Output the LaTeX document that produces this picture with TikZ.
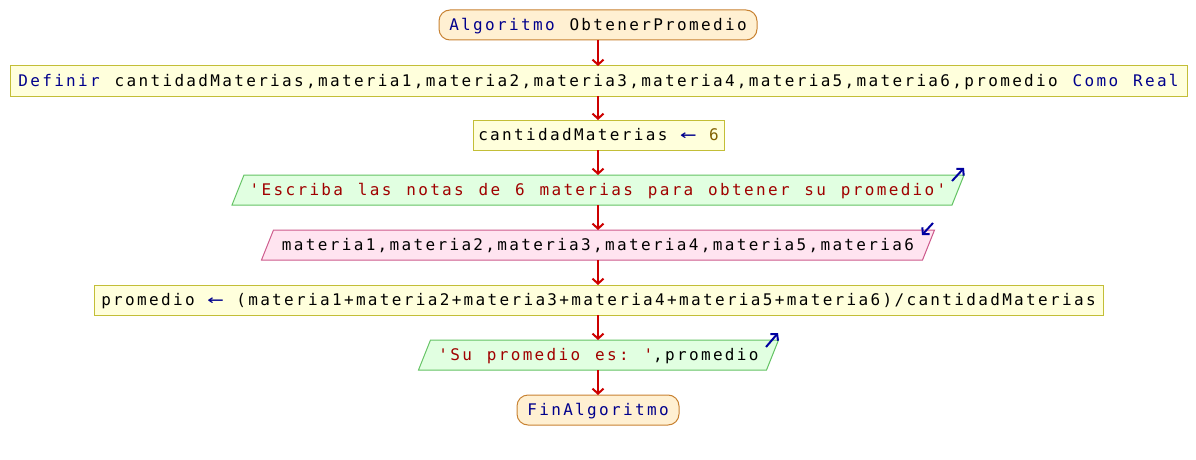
\documentclass[tikz,border=0pt]{standalone}
\usepackage{fontspec}
\setmonofont{DejaVu Sans Mono}[LetterSpace=14.6, WordSpace=1.24]
\usetikzlibrary{arrows.meta,backgrounds,calc}

\definecolor{kwcol}{RGB}{0,0,140}
\definecolor{strcol}{RGB}{160,0,0}
\definecolor{numcol}{RGB}{128,96,0}
\definecolor{termfill}{RGB}{255,240,210}
\definecolor{termline}{RGB}{200,130,50}
\definecolor{procfill}{RGB}{255,255,220}
\definecolor{procline}{RGB}{195,190,55}
\definecolor{outfill}{RGB}{225,255,225}
\definecolor{outline}{RGB}{100,195,100}
\definecolor{infill}{RGB}{255,228,240}
\definecolor{inline}{RGB}{205,90,140}
\definecolor{flowcol}{RGB}{205,0,0}
\definecolor{iocol}{RGB}{0,0,160}

\newcommand{\kw}[1]{\textcolor{kwcol}{#1}}
\newcommand{\str}[1]{\textcolor{strcol}{#1}}
\newcommand{\num}[1]{\textcolor{numcol}{#1}}
% wide assignment arrow
\newcommand{\asg}{\kern-2.2pt\textcolor{kwcol}{\scalebox{1.7}[1.1]{←}}\kern-2.2pt}

% slanted input/output box drawn behind a rectangular text node
\newcommand{\slantbox}[3]{%
  \begin{pgfonlayer}{background}
    \draw[line width=1pt, draw=#3, fill=#2]
      ($(#1.south west)+(-6,0)$) -- ($(#1.north west)+(6,0)$) --
      ($(#1.north east)+(6,0)$) -- ($(#1.south east)+(-6,0)$) -- cycle;
  \end{pgfonlayer}}

\tikzset{
  base/.style={inner sep=0pt, outer sep=0pt, minimum height=30pt,
    font=\fontsize{16}{19}\ttfamily, text height=12.5pt, text depth=0.8pt},
  termbox/.style={base, draw=termline, fill=termfill, line width=1pt, rounded corners=11pt},
  procbox/.style={base, draw=procline, fill=procfill, line width=1pt},
  iobox/.style={base},
  flow/.style={draw=flowcol, line width=2pt, -{Straight Barb[length=5pt,width=11pt]}},
  ioarrow/.style={draw=iocol, line width=2pt, -{Straight Barb[length=4.5pt,width=10pt]}}
}

\begin{document}
\begin{tikzpicture}[x=1pt,y=-1pt]
\useasboundingbox (0,0) rectangle (1196,460);

\node[termbox, minimum width=318pt] (start) at (598,25)
  {\kw{Algoritmo} ObtenerPromedio};
\node[procbox, minimum width=1177pt] (defs) at (598.5,81)
  {\kw{Definir} cantidadMaterias,materia1,materia2,materia3,materia4,materia5,materia6,promedio \kw{Como} \kw{Real}};
\node[procbox, minimum width=251pt] (count) at (598.5,135)
  {cantidadMaterias \asg{} \num{6}};
\node[iobox, minimum width=720pt] (prompt) at (598,190)
  {\str{'Escriba las notas de 6 materias para obtener su promedio'}};
\node[iobox, minimum width=661pt] (read) at (598,245)
  {materia1,materia2,materia3,materia4,materia5,materia6};
\node[procbox, minimum width=1009pt] (avg) at (598.5,300)
  {promedio \asg{} (materia1+materia2+materia3+materia4+materia5+materia6)/cantidadMaterias};
\node[iobox, minimum width=348pt] (show) at (598.5,355)
  {\str{'Su promedio es: '},promedio};
\node[termbox, minimum width=162pt] (stop) at (598,410)
  {\kw{FinAlgoritmo}};

\slantbox{prompt}{outfill}{outline}
\slantbox{read}{infill}{inline}
\slantbox{show}{outfill}{outline}

% output / input markers at the top right corners
\draw[ioarrow] ($(prompt.north east)+(-6,6)$) -- ($(prompt.north east)+(6,-7)$);
\draw[ioarrow] ($(read.north east)+(4.5,-7)$) -- ($(read.north east)+(-6.5,5)$);
\draw[ioarrow] ($(show.north east)+(-6.5,7)$) -- ($(show.north east)+(5.5,-7)$);

% control flow
\draw[flow] (start.south) -- (start.south |- defs.north);
\draw[flow] (start.south |- defs.south) -- (start.south |- count.north);
\draw[flow] (start.south |- count.south) -- (start.south |- prompt.north);
\draw[flow] (start.south |- prompt.south) -- (start.south |- read.north);
\draw[flow] (start.south |- read.south) -- (start.south |- avg.north);
\draw[flow] (start.south |- avg.south) -- (start.south |- show.north);
\draw[flow] (start.south |- show.south) -- (stop.north);
\end{tikzpicture}
\end{document}
